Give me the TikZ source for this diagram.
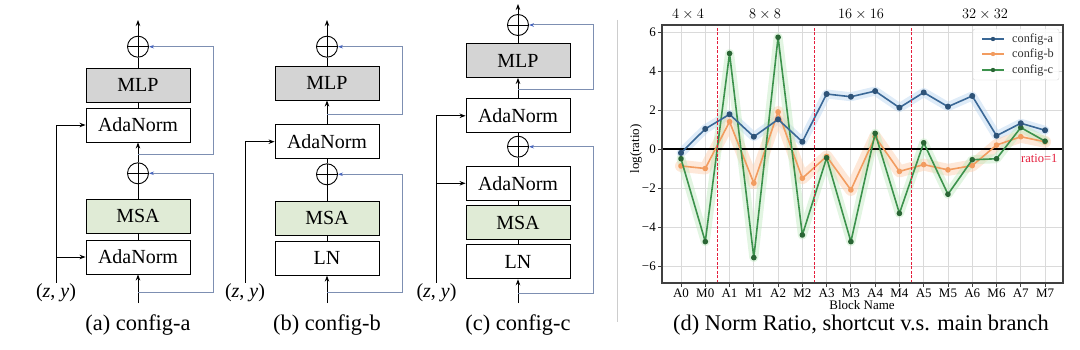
\documentclass[tikz,border=0pt]{standalone}
\usepackage{fontspec}
\setmainfont{Liberation Serif}
\usetikzlibrary{arrows.meta,calc}
\definecolor{mlpgray}{RGB}{212,212,212}
\definecolor{msagreen}{RGB}{224,235,214}
\definecolor{skipc}{RGB}{125,143,178}
\definecolor{skiptip}{RGB}{70,100,190}
\definecolor{ca}{RGB}{58,104,150}
\definecolor{cb}{RGB}{242,156,96}
\definecolor{cc}{RGB}{60,146,76}
\definecolor{cab}{RGB}{185,212,240}
\definecolor{cbb}{RGB}{252,205,170}
\definecolor{ccb}{RGB}{190,232,190}
\definecolor{gridc}{RGB}{218,218,218}
\definecolor{redl}{RGB}{228,30,60}
\definecolor{sepc}{RGB}{205,205,205}
\begin{document}
\begin{tikzpicture}[x=1pt,y=-1pt,
  blk/.style={draw=black, line width=0.9pt, minimum width=104pt, minimum height=34pt, inner sep=0pt, fill=white, font=\fontsize{20}{22}\selectfont},
  mlpbox/.style={blk, fill=mlpgray},
  msabox/.style={blk, fill=msagreen},
  plusnode/.style={circle, draw=black, line width=0.9pt, minimum size=21pt, inner sep=0pt,
    path picture={\draw[line width=0.9pt] (path picture bounding box.north) -- (path picture bounding box.south) (path picture bounding box.west) -- (path picture bounding box.east);}},
  arr/.style={line width=0.9pt, -{Stealth[length=6pt,width=4.5pt]}},
  ln/.style={line width=0.9pt},
  skipl/.style={draw=skipc, line width=1pt, -{Stealth[length=5pt,width=3.5pt,color=skiptip]}},
  zyfont/.style={font=\fontsize{20}{22}\selectfont, inner sep=1pt},
  capfont/.style={font=\fontsize{22.4}{24}\selectfont, inner sep=0pt},
  tickfont/.style={font=\fontsize{13}{14}\selectfont, inner sep=1pt},
  legfont/.style={font=\fontsize{12.3}{13}\selectfont, inner sep=0pt, text=black!80},
  band/.style={line width=9pt, line join=round, line cap=round, opacity=0.45},
  dline/.style={line width=1.6pt, line join=round},
]
\useasboundingbox (0,0) rectangle (1080,350);

% ---------------- (a) config-a ----------------
\node[plusnode] (a_p2) at (138,46.7) {};
\node[mlpbox] (a_mlp) at (138,85) {MLP};
\node[blk] (a_ada2) at (138,125) {AdaNorm};
\node[plusnode] (a_p1) at (138,173.3) {};
\node[msabox] (a_msa) at (138,216) {MSA};
\node[blk] (a_ada1) at (138,257) {AdaNorm};
\coordinate (a_in) at (138,303);
\coordinate (a_out) at (138,20);
\coordinate (a_s1) at (138,292.7);
\coordinate (a_s2) at (138,155);
\node[zyfont] (a_zy) at (56,293) {(\textit{z}, \textit{y})};
\node[capfont] (a_cap) at (138,325) {(a) config-a};
\draw[arr] (a_in) -- (a_ada1);
\draw[ln] (a_ada1) -- (a_msa);
\draw[ln] (a_msa) -- (a_p1);
\draw[arr] (a_p1) -- (a_ada2);
\draw[ln] (a_ada2) -- (a_mlp);
\draw[ln] (a_mlp) -- (a_p2);
\draw[arr] (a_p2) -- (a_out);
\draw[skipl] (a_s1) -- ++(75,0) |- (a_p1);
\draw[skipl] (a_s2) -- ++(75,0) |- (a_p2);
\draw[arr] (a_zy) |- (a_ada2);
\draw[arr] (a_zy.north |- a_ada1) -- (a_ada1);

% ---------------- (b) config-b ----------------
\node[plusnode] (b_p2) at (327,46.7) {};
\node[mlpbox] (b_mlp) at (327,83) {MLP};
\node[blk] (b_ada) at (327,141.7) {AdaNorm};
\node[plusnode] (b_p1) at (327,174.3) {};
\node[msabox] (b_msa) at (327,218.3) {MSA};
\node[blk] (b_ln) at (327,258.2) {LN};
\coordinate (b_in) at (327,303);
\coordinate (b_out) at (327,20);
\coordinate (b_s1) at (327,292.3);
\coordinate (b_s2) at (327,115);
\node[zyfont] (b_zy) at (245,293) {(\textit{z}, \textit{y})};
\node[capfont] (b_cap) at (327,325) {(b) config-b};
\draw[arr] (b_in) -- (b_ln);
\draw[ln] (b_ln) -- (b_msa);
\draw[ln] (b_msa) -- (b_p1);
\draw[ln] (b_p1) -- (b_ada);
\draw[arr] (b_ada) -- (b_mlp);
\draw[ln] (b_mlp) -- (b_p2);
\draw[arr] (b_p2) -- (b_out);
\draw[skipl] (b_s1) -- ++(75.7,0) |- (b_p1);
\draw[skipl] (b_s2) -- ++(75.7,0) |- (b_p2);
\draw[arr] (b_zy) |- (b_ada);

% ---------------- (c) config-c ----------------
\node[plusnode] (c_p2) at (518,25) {};
\node[mlpbox] (c_mlp) at (518,60.5) {MLP};
\node[blk] (c_ada2) at (518,115.8) {AdaNorm};
\node[plusnode] (c_p1) at (518,146.7) {};
\node[blk] (c_ada1) at (518,183.3) {AdaNorm};
\node[msabox] (c_msa) at (518,222.7) {MSA};
\node[blk] (c_ln) at (518,261.8) {LN};
\coordinate (c_in) at (518,303);
\coordinate (c_out) at (518,4);
\coordinate (c_s1) at (518,293.3);
\coordinate (c_s2) at (518,89.3);
\node[zyfont] (c_zy) at (436.5,293) {(\textit{z}, \textit{y})};
\node[capfont] (c_cap) at (518,325) {(c) config-c};
\draw[arr] (c_in) -- (c_ln);
\draw[ln] (c_ln) -- (c_msa);
\draw[ln] (c_msa) -- (c_ada1);
\draw[ln] (c_ada1) -- (c_p1);
\draw[ln] (c_p1) -- (c_ada2);
\draw[arr] (c_ada2) -- (c_mlp);
\draw[ln] (c_mlp) -- (c_p2);
\draw[arr] (c_p2) -- (c_out);
\draw[skipl] (c_s1) -- ++(75.3,0) |- (c_p1);
\draw[skipl] (c_s2) -- ++(75.3,0) |- (c_p2);
\draw[arr] (c_zy) |- (c_ada2);
\draw[arr] (c_zy.north |- c_ada1) -- (c_ada1);

% separator
\draw[sepc, line width=1pt] (617,20) -- (617,322);

% ---------------- (d) plot ----------------
\begin{scope}[shift={(681,149)}, x=24.27pt, y=19.5pt]
  % grid
  \foreach \i in {0,...,15} \draw[gridc, line width=0.9pt] (\i,-6.87) -- (\i,6.36);
  \foreach \v in {-6,-4,...,6} \draw[gridc, line width=0.9pt] (-0.783,\v) -- (15.74,\v);
  % bands
  \draw[band, cab] plot coordinates {(0,-0.2) (1,1.03) (2,1.78) (3,0.63) (4,1.52) (5,0.37) (6,2.82) (7,2.68) (8,2.97) (9,2.12) (10,2.9) (11,2.17) (12,2.72) (13,0.68) (14,1.32) (15,0.96)};
  \draw[band, cbb, line width=12pt] plot coordinates {(0,-0.87) (1,-1.0) (2,1.4) (3,-1.75) (4,1.9) (5,-1.5) (6,-0.38) (7,-2.1) (8,0.63) (9,-1.15) (10,-0.8) (11,-1.07) (12,-0.85) (13,0.2) (14,0.63) (15,0.37)};
  \draw[band, ccb] plot coordinates {(0,-0.5) (1,-4.75) (2,4.9) (3,-5.57) (4,5.73) (5,-4.41) (6,-0.45) (7,-4.75) (8,0.8) (9,-3.3) (10,0.32) (11,-2.32) (12,-0.55) (13,-0.5) (14,1.1) (15,0.4)};
  % zero line
  \draw[black, line width=1.3pt] (-0.783,0) -- (15.74,0);
  % lines
  \draw[dline, cb] plot[mark=*, mark size=2pt, mark options={fill=cb, draw=cb}] coordinates {(0,-0.87) (1,-1.0) (2,1.4) (3,-1.75) (4,1.9) (5,-1.5) (6,-0.38) (7,-2.1) (8,0.63) (9,-1.15) (10,-0.8) (11,-1.07) (12,-0.85) (13,0.2) (14,0.63) (15,0.37)};
  \draw[dline, cc] plot[mark=*, mark size=2pt, mark options={fill=cc!70!black, draw=cc!70!black}] coordinates {(0,-0.5) (1,-4.75) (2,4.9) (3,-5.57) (4,5.73) (5,-4.41) (6,-0.45) (7,-4.75) (8,0.8) (9,-3.3) (10,0.32) (11,-2.32) (12,-0.55) (13,-0.5) (14,1.1) (15,0.4)};
  \draw[dline, ca] plot[mark=*, mark size=2.2pt, mark options={fill=ca!80!black, draw=ca!80!black}] coordinates {(0,-0.2) (1,1.03) (2,1.78) (3,0.63) (4,1.52) (5,0.37) (6,2.82) (7,2.68) (8,2.97) (9,2.12) (10,2.9) (11,2.17) (12,2.72) (13,0.68) (14,1.32) (15,0.96)};
  % red separators
  \foreach \r in {1.5,5.5,9.5} \draw[redl, line width=1.2pt, dash pattern=on 3pt off 1.5pt] (\r,-6.87) -- (\r,6.36);
  % frame
  \draw[black!75, line width=1.2pt] (-0.783,-6.87) rectangle (15.74,6.36);
  % ticks
  \foreach \v/\t in {6/6,4/4,2/2,0/0,-2/−2,-4/−4,-6/−6} {
    \draw[black!75, line width=0.9pt] (-0.783,\v) -- ++(-4pt,0);
    \node[tickfont, anchor=east] (yt\v) at ([xshift=-5pt]-0.783,\v) {\t};
  }
  \foreach \n [count=\i from 0] in {A0,M0,A1,M1,A2,M2,A3,M3,A4,M4,A5,M5,A6,M6,A7,M7} {
    \draw[black!75, line width=0.9pt] (\i,-6.87) -- ++(0,-4pt);
    \node[tickfont, anchor=north] (xt\i) at ([yshift=-5pt]\i,-6.87) {\n};
  }
\end{scope}
% top group labels
\node[font=\fontsize{14.5}{16}\selectfont] (g4) at (688,14) {$4\times4$};
\node[font=\fontsize{14.5}{16}\selectfont] (g8) at (765,14) {$8\times8$};
\node[font=\fontsize{14.5}{16}\selectfont] (g16) at (861,14) {$16\times16$};
\node[font=\fontsize{14.5}{16}\selectfont] (g32) at (985,14) {$32\times32$};
% axis titles
\node[tickfont, rotate=90] (ylab) at (636,149) {log(ratio)};
\node[tickfont] (xlab) at (862,305) {Block Name};
\node[font=\fontsize{12.5}{13}\selectfont, text=redl, anchor=west, inner sep=0pt] (ratio) at (1021,158) {ratio=1};
% legend
\draw[black!15, fill=white, fill opacity=0.85, rounded corners=2pt] (973,29) rectangle (1059,80);
\draw[ca, line width=1.6pt] (982,39) -- (1004,39);
\fill[ca!80!black] (993,39) circle (2.2);
\draw[cb, line width=1.6pt] (982,54) -- (1004,54);
\fill[cb] (993,54) circle (2.2);
\draw[cc, line width=1.6pt] (982,70) -- (1004,70);
\fill[cc!70!black] (993,70) circle (2.2);
\node[legfont, anchor=west] (la) at (1012,39) {config-a};
\node[legfont, anchor=west] (lb) at (1012,54) {config-b};
\node[legfont, anchor=west] (lc) at (1012,70) {config-c};
\node[capfont] (d_cap) at (861,325) {(d) Norm Ratio, shortcut v.s. main branch};
\end{tikzpicture}
\end{document}
